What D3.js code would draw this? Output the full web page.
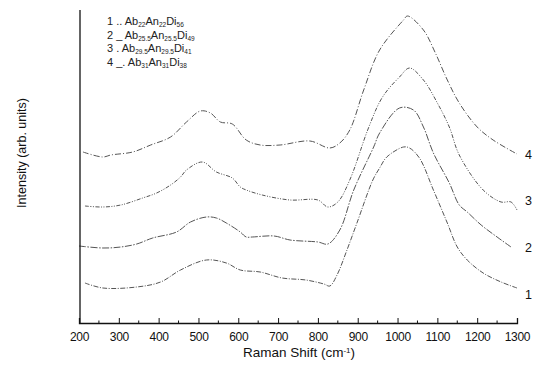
<!DOCTYPE html>
<html>
<head>
<meta charset="utf-8">
<script src="https://cdn.jsdelivr.net/npm/d3@7"></script>
<style>
  body { margin: 0; background: #fff; }
  text { font-family: "Liberation Sans", Arial, sans-serif; fill: #111; }
</style>
</head>
<body>
<svg id="chart" width="534" height="374"></svg>
<script>
// Raman spectra, wavenumber (cm-1) vs intensity (arb. units, offset)
const shift1 = [215, 260, 345, 405, 455, 520, 570, 605, 655, 710, 770, 815, 830, 848, 873, 898, 938, 955, 973, 1015, 1030, 1055, 1090, 1125, 1150, 1175, 1215, 1260, 1300];
const int1   = [40, 35, 36, 41, 53, 63, 60, 53, 51, 45, 43, 39, 37, 48, 73, 100, 143, 155, 166, 176, 175, 165, 133, 100, 76, 63, 50, 41, 35];

const shift2 = [200, 260, 305, 345, 385, 445, 480, 520, 545, 570, 605, 620, 635, 690, 730, 800, 825, 855, 890, 940, 955, 1005, 1040, 1065, 1090, 1130, 1155, 1175, 1210, 1250, 1285];
const int2   = [77, 75, 76, 79, 85, 91, 101, 106, 105, 100, 91, 86, 86, 87, 83, 81, 79, 93, 133, 176, 190, 215, 213, 196, 170, 140, 118, 111, 98, 86, 76];

const shift3 = [215, 260, 305, 360, 395, 430, 455, 470, 510, 545, 585, 605, 620, 660, 730, 800, 825, 850, 880, 925, 955, 975, 1005, 1030, 1065, 1100, 1130, 1155, 1215, 1260, 1285, 1300];
const int3   = [117, 116, 118, 125, 130, 138, 146, 153, 161, 151, 145, 136, 133, 128, 123, 123, 116, 121, 143, 193, 221, 233, 246, 255, 243, 220, 196, 168, 133, 121, 121, 113];

const shift4 = [210, 260, 280, 335, 380, 430, 470, 505, 530, 555, 585, 620, 655, 705, 780, 830, 855, 880, 915, 955, 1015, 1025, 1065, 1095, 1125, 1155, 1200, 1240, 1300];
const int4   = [171, 166, 168, 171, 178, 186, 201, 212, 210, 201, 199, 183, 178, 178, 182, 175, 180, 193, 233, 273, 303, 307, 293, 270, 243, 220, 196, 183, 169];

const curveNames = ['1', '2', '3', '4'];
const labelLevels = [29, 76, 123, 169];
const xTicks = [200, 300, 400, 500, 600, 700, 800, 900, 1000, 1100, 1200, 1300];
const legendLines = [
  ['1 .. Ab', '22', 'An', '22', 'Di', '56'],
  ['2 _ Ab', '25.5', 'An', '25.5', 'Di', '49'],
  ['3 . Ab', '29.5', 'An', '29.5', 'Di', '41'],
  ['4 _. Ab', '31', 'An', '31', 'Di', '38']
];

const svg = d3.select('#chart');
const x = d3.scaleLinear().domain([200, 1300]).range([79, 517]);
const y = d3.scaleLinear().domain([0, 313]).range([323, 10]);

const series = [
  { name: curveNames[0], xs: shift1, ys: int1, dash: '5,1.5,1,1.5' },
  { name: curveNames[1], xs: shift2, ys: int2, dash: '7,1.5,1.5,1.5' },
  { name: curveNames[2], xs: shift3, ys: int3, dash: '4,1.5,1,1.5,1,1.5' },
  { name: curveNames[3], xs: shift4, ys: int4, dash: '6,2,1,2' }
];

const line = d3.line()
  .x(d => x(d[0]))
  .y(d => y(d[1]))
  .curve(d3.curveCatmullRom.alpha(0.5));

series.forEach((s, i) => {
  svg.append('path')
    .attr('d', line(s.xs.map((v, j) => [v, s.ys[j]])))
    .attr('fill', 'none')
    .attr('stroke', '#555')
    .attr('stroke-width', 1)
    .attr('stroke-dasharray', s.dash);

  svg.append('text')
    .attr('x', 525)
    .attr('y', y(labelLevels[i]))
    .attr('dy', '0.36em')
    .attr('font-size', 12.5)
    .text(s.name);
});

// axes
svg.append('line')
  .attr('x1', 80).attr('x2', 80)
  .attr('y1', 10).attr('y2', 323)
  .attr('stroke', '#111').attr('stroke-width', 1.3);

const xAxis = d3.axisBottom(x)
  .tickValues(xTicks)
  .tickSize(-5)
  .tickPadding(9)
  .tickFormat(d3.format('d'));

const gx = svg.append('g')
  .attr('transform', 'translate(0,323)')
  .call(xAxis);
gx.select('.domain').attr('stroke', '#111').attr('stroke-width', 1.3);
gx.selectAll('.tick line').attr('stroke', '#111');
gx.selectAll('.tick text')
  .attr('font-size', 12)
  .attr('font-family', '"Liberation Sans", Arial, sans-serif')
  .attr('letter-spacing', -0.3)
  .attr('fill', '#111');

gx.selectAll('.minor')
  .data(d3.range(250, 1300, 100))
  .enter().append('line')
  .attr('x1', d => x(d)).attr('x2', d => x(d))
  .attr('y1', 0).attr('y2', -2.5)
  .attr('stroke', '#111');

svg.append('text')
  .attr('x', 299).attr('y', 357)
  .attr('text-anchor', 'middle')
  .attr('font-size', 13.5)
  .html('Raman Shift (cm<tspan baseline-shift="super" font-size="8">-1</tspan>)');

svg.append('text')
  .attr('transform', 'translate(26,153) rotate(-90)')
  .attr('text-anchor', 'middle')
  .attr('font-size', 12.5)
  .text('Intensity (arb. units)');

// legend
const legend = svg.append('g').attr('transform', 'translate(107,25)');
legendLines.forEach((parts, i) => {
  const t = legend.append('text')
    .attr('y', i * 13.5)
    .attr('font-family', '"Liberation Serif", "Times New Roman", serif')
    .attr('font-size', 11)
    .style('fill', '#222');
  parts.forEach((p, k) => {
    const ts = t.append('tspan').text(p);
    if (k % 2 === 1) ts.attr('font-size', 6.5).attr('dy', 2);
    else if (k > 0) ts.attr('dy', -2);
  });
});
</script>
</body>
</html>
